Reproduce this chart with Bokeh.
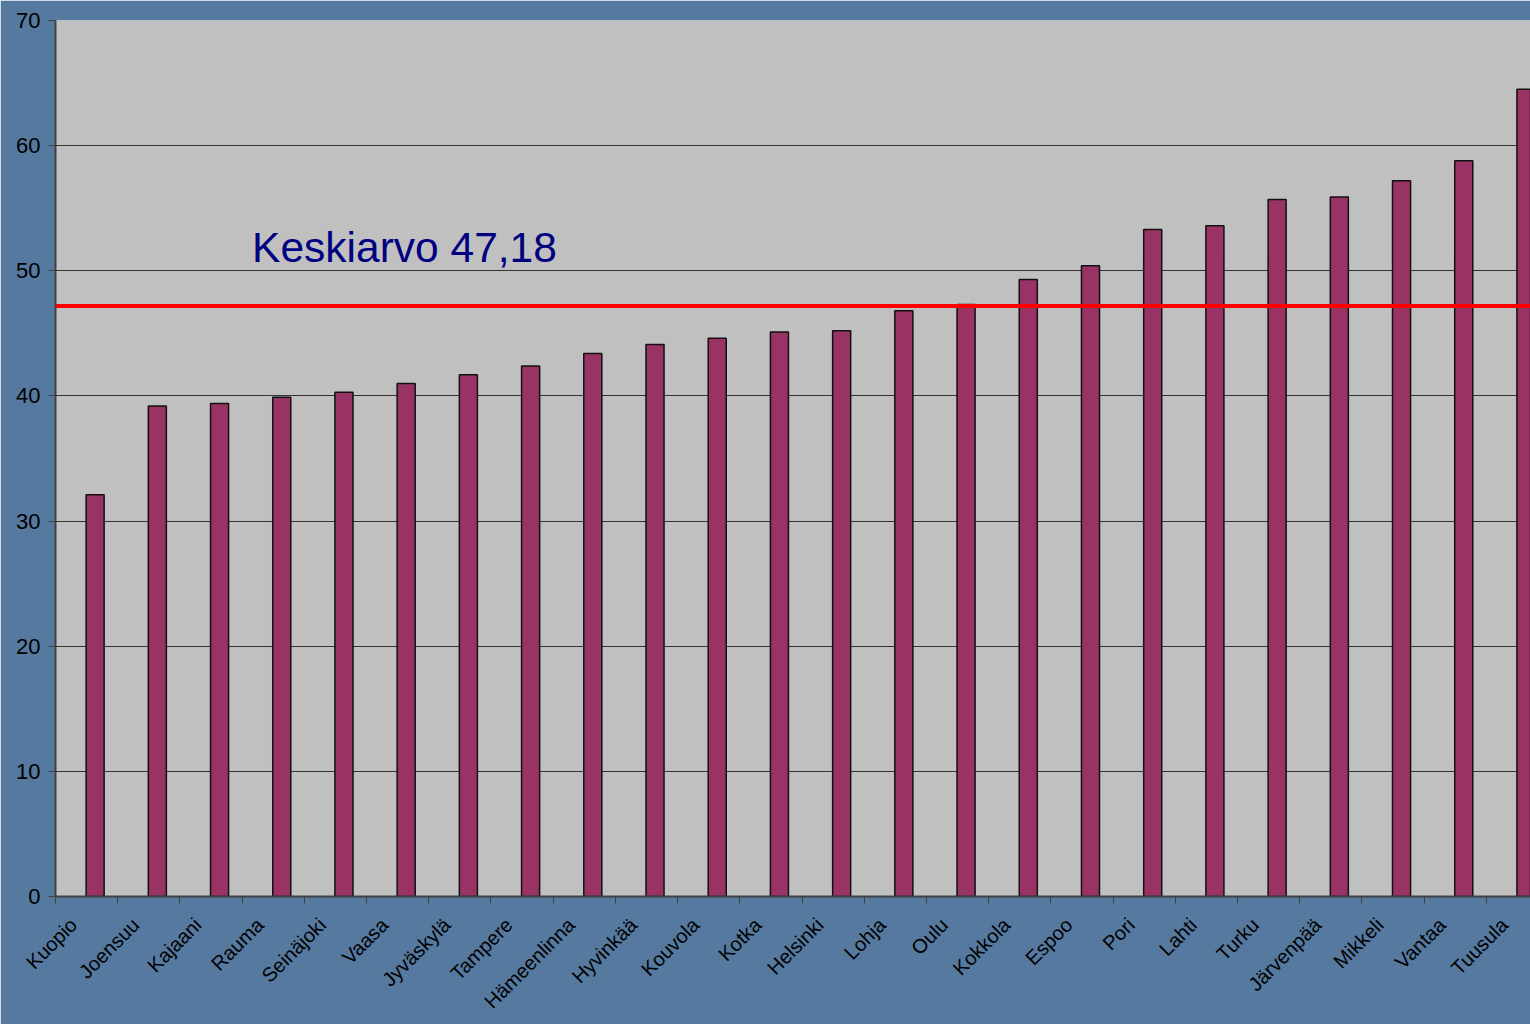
import math
from bokeh.plotting import figure
from bokeh.models import Range1d, FixedTicker, Span, Label, ColumnDataSource
from bokeh.transform import dodge
from bokeh.embed import file_html
from bokeh.resources import INLINE

cities = ["Kuopio", "Joensuu", "Kajaani", "Rauma", "Seinäjoki", "Vaasa", "Jyväskylä",
          "Tampere", "Hämeenlinna", "Hyvinkää", "Kouvola", "Kotka", "Helsinki", "Lohja",
          "Oulu", "Kokkola", "Espoo", "Pori", "Lahti", "Turku", "Järvenpää", "Mikkeli",
          "Vantaa", "Tuusula"]
values = [32.1, 39.2, 39.4, 39.9, 40.3, 41.0, 41.7, 42.4, 43.4, 44.1, 44.6, 45.1, 45.2,
          46.8, 47.3, 49.3, 50.4, 53.3, 53.6, 55.7, 55.9, 57.2, 58.8, 64.5]
mean_value = 47.18
mean_label = "Keskiarvo 47,18"
y_ticks = [0, 10, 20, 30, 40, 50, 60, 70]

BG = "#56799f"
FONT = "Liberation Sans"

xs = list(range(len(cities)))
src = ColumnDataSource(dict(x=xs, top=values, city=cities))

p = figure(width=1530, height=1024, output_backend="svg", toolbar_location=None,
           x_range=Range1d(-0.5, 23.21), y_range=Range1d(0, 70),
           min_border_left=55, min_border_right=0, min_border_top=20, min_border_bottom=128)
p.background_fill_color = "#c0c0c0"
p.border_fill_color = BG
p.outline_line_color = None

p.vbar(x=dodge("x", 0.137, range=p.x_range), top="top", source=src, width=0.29,
       fill_color="#993366", line_color="#111111", line_width=1.5)

p.add_layout(Span(location=mean_value, dimension="width", line_color="#ff0000", line_width=4))
p.add_layout(Label(x=2.66, y=49.95, text=mean_label, text_color="#000080",
                   text_font=FONT, text_font_size="42.5px"))

# y axis
p.yaxis.ticker = FixedTicker(ticks=y_ticks)
p.yaxis.axis_line_color = "#404040"
p.yaxis.axis_line_width = 2
p.yaxis.major_tick_line_color = "#404040"
p.yaxis.major_tick_out = 7
p.yaxis.major_tick_in = 0
p.yaxis.minor_tick_line_color = None
p.yaxis.major_label_text_font = FONT
p.yaxis.major_label_text_font_size = "22px"
p.yaxis.major_label_text_color = "#000000"
p.yaxis.major_label_standoff = 8

# x axis: rotated category names, tick marks between categories
label_pos = [i - 0.21 for i in xs]
bounds = [i - 0.5 for i in xs + [len(xs)]]
p.xaxis.ticker = FixedTicker(ticks=label_pos, minor_ticks=bounds)
p.xaxis.major_label_overrides = {pos: c for pos, c in zip(label_pos, cities)}
p.xaxis.major_label_orientation = math.pi / 4
p.xaxis.major_tick_line_color = None
p.xaxis.major_tick_out = 0
p.xaxis.major_tick_in = 0
p.xaxis.minor_tick_line_color = "#404040"
p.xaxis.minor_tick_out = 7
p.xaxis.minor_tick_in = 0
p.xaxis.axis_line_color = "#404040"
p.xaxis.axis_line_width = 2
p.xaxis.major_label_text_font = FONT
p.xaxis.major_label_text_font_size = "20px"
p.xaxis.major_label_text_color = "#000000"
p.xaxis.major_label_standoff = 18

p.xgrid.grid_line_color = None
p.ygrid.ticker = FixedTicker(ticks=y_ticks)
p.ygrid.grid_line_color = "#333333"
p.ygrid.grid_line_width = 1

open("out.html", "w").write(file_html(p, INLINE))
